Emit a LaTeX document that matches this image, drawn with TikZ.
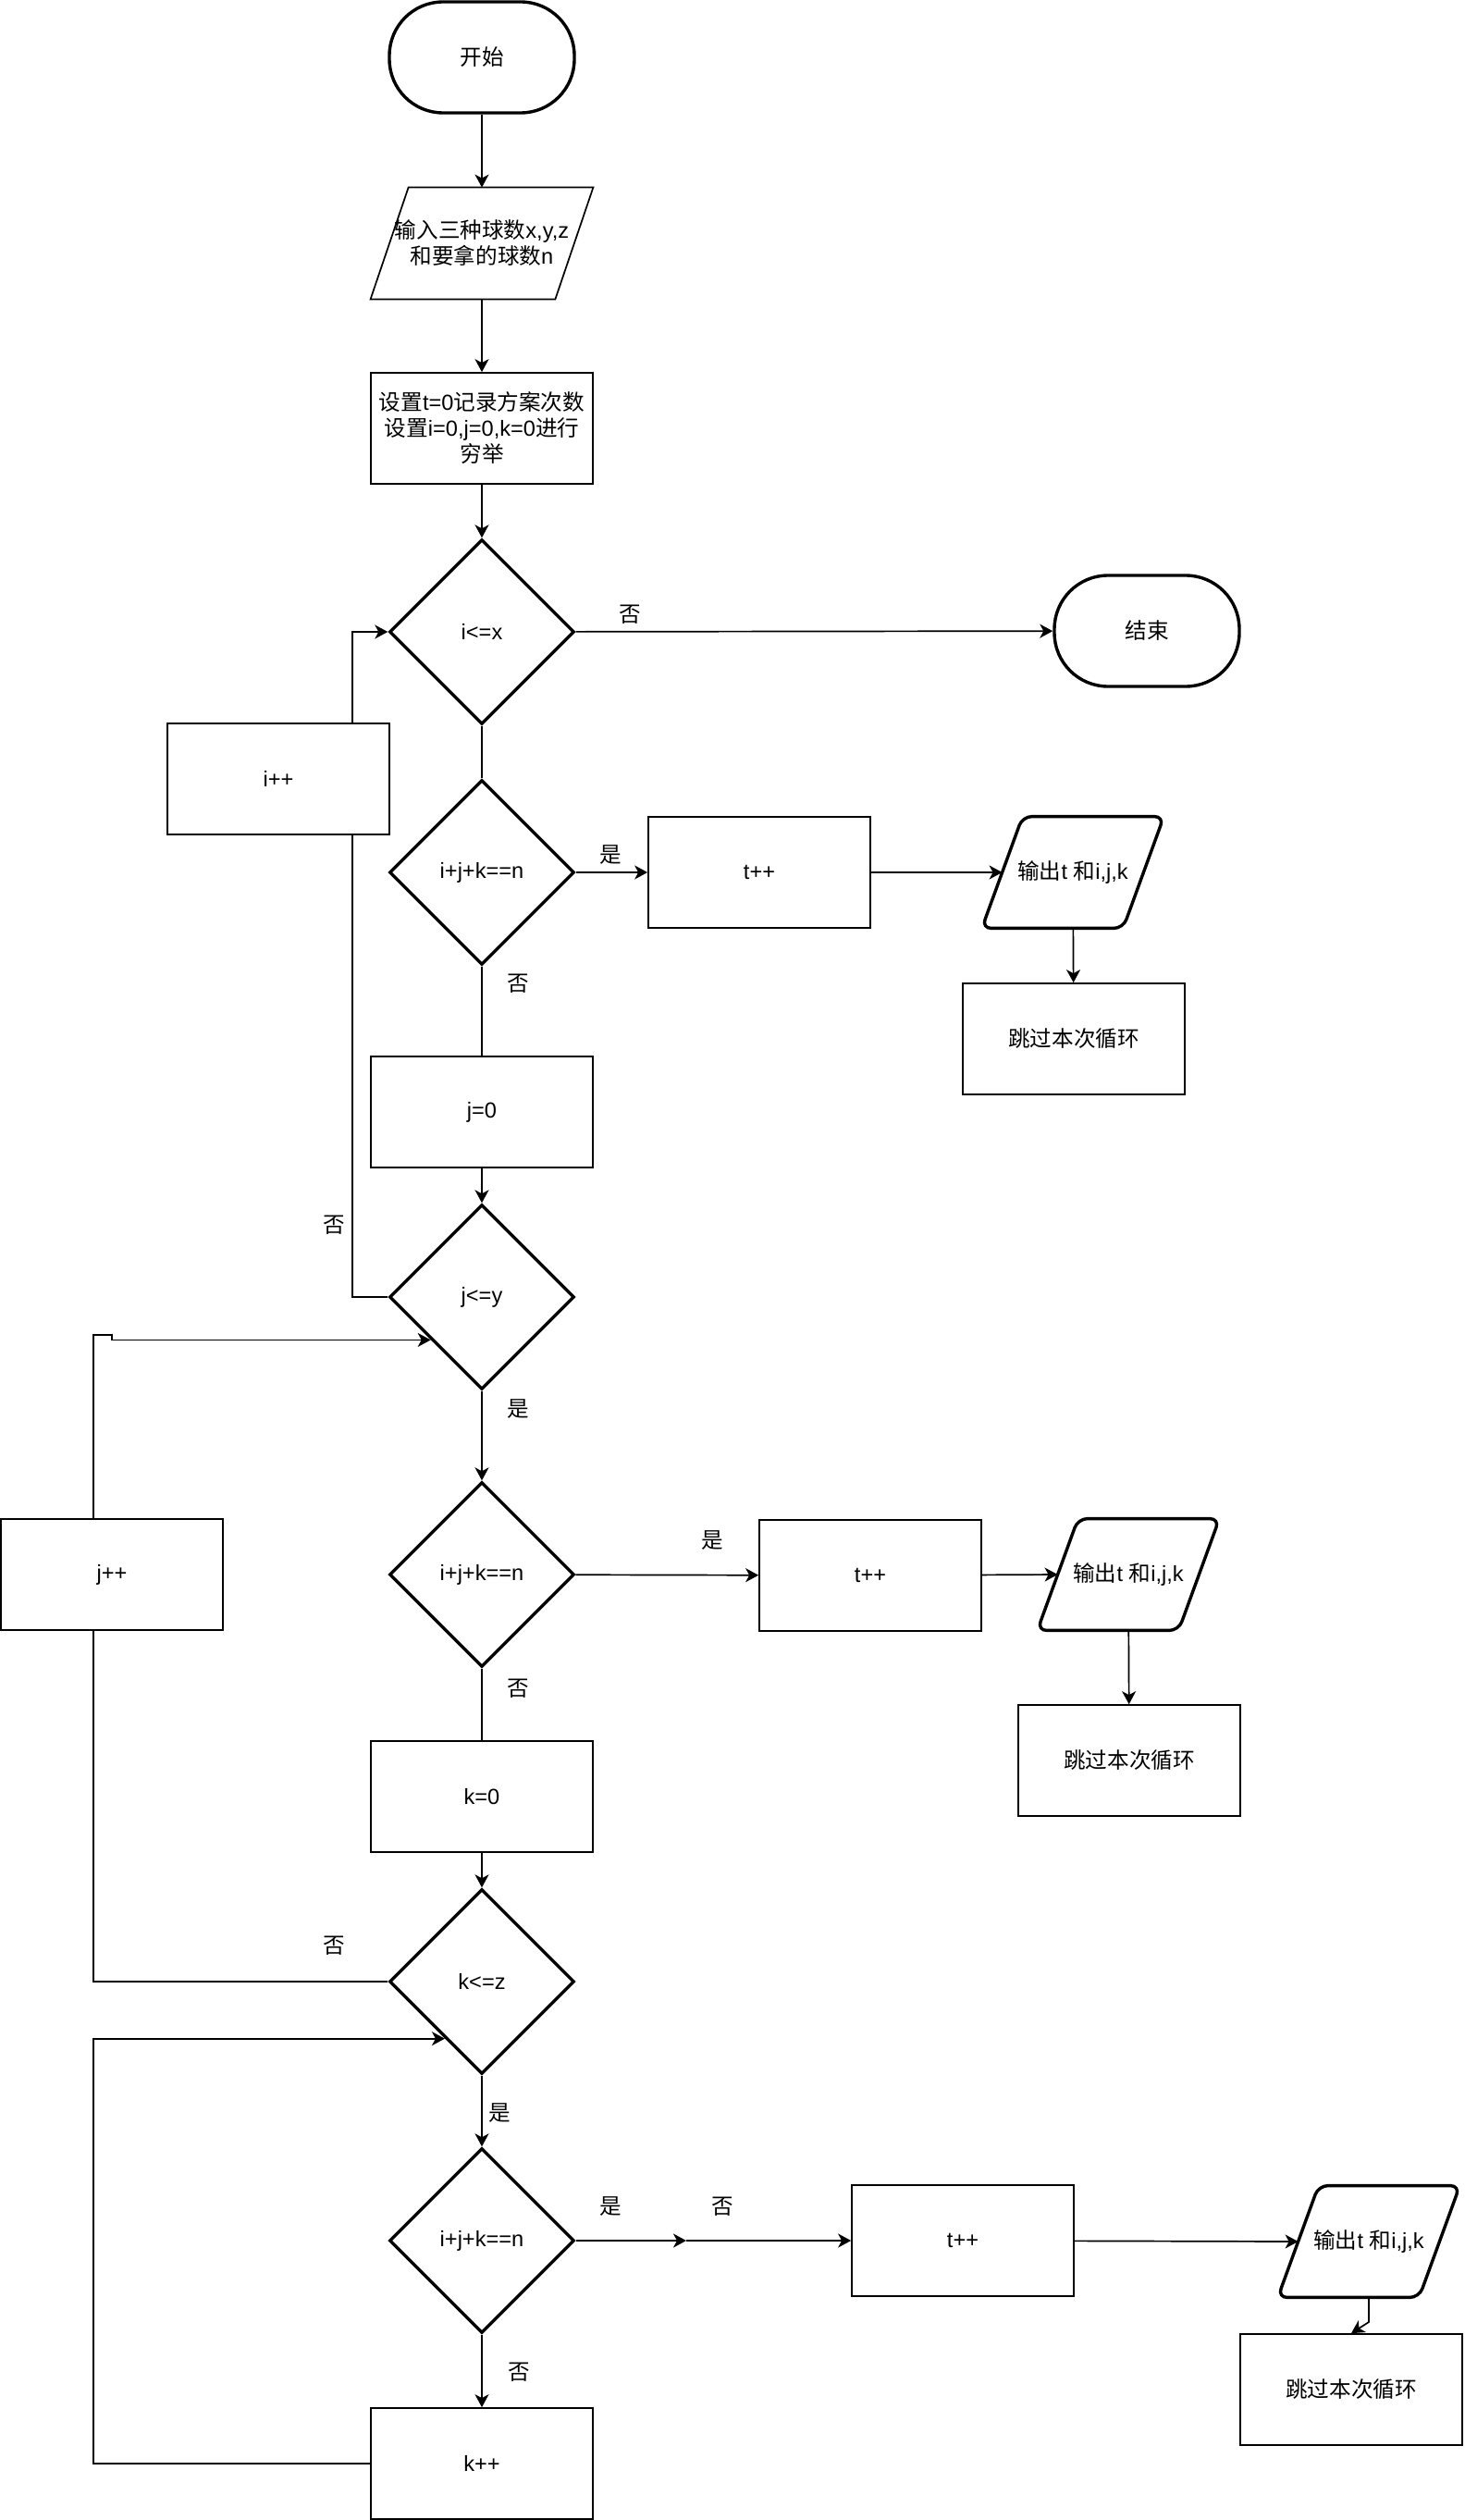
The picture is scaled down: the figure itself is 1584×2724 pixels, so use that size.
\documentclass[tikz,border=0pt]{standalone}
\usepackage{fontspec}
\setmainfont{Liberation Sans}
\newfontfamily\cjk{Noto Sans CJK SC}
\usetikzlibrary{shapes.geometric,arrows.meta,calc}
\begin{document}
\begin{tikzpicture}[x=0.5pt,y=-0.5pt,
 base/.style={font=\fontsize{11.8pt}{14pt}\selectfont, inner sep=0pt, align=center},
 term/.style={base, draw, line width=1.7pt, rectangle, rounded corners=29pt, minimum width=100pt, minimum height=60pt},
 proc/.style={base, draw, line width=0.85pt, rectangle, minimum width=120pt, minimum height=60pt},
 dec/.style={base, draw, line width=1.7pt, diamond, aspect=1, minimum width=100pt, minimum height=100pt},
 inbox/.style={base, rectangle, minimum width=120pt, minimum height=60pt},
 outbox/.style={base, rectangle, minimum width=98pt, minimum height=60pt},
 inline/.style={line width=0.85pt, line join=miter},
 outline/.style={line width=1.7pt, rounded corners=5pt},
 conn/.style={line width=0.85pt},
 arr/.style={conn, -{Stealth[length=7pt,width=7.5pt,inset=2pt]}},
 lbl/.style={font=\fontsize{11.8pt}{14pt}\selectfont\cjk, inner sep=0pt}]
\fill[white] (0,0) rectangle (1584,2724);
\useasboundingbox (0,0) rectangle (1584,2724);

\node[term] (start) at (521,62) {\cjk 开始};
\node[inbox] (input) at (521,263) {{\cjk 输入三种球数}x,y,z\\{\cjk 和要拿的球数}n};
\node[proc] (setup) at (521,463) {{\cjk 设置}t=0{\cjk 记录方案次数}\\{\cjk 设置}i=0,j=0,k=0{\cjk 进行}\\{\cjk 穷举}};
\node[dec] (d1) at (521,683) {i<=x};
\node[term] (end) at (1240,682) {\cjk 结束};
\node[proc] (ipp) at (301,842) {i++};
\node[dec] (d2) at (521,943) {i+j+k==n};
\node[proc] (t1) at (821,943) {t++};
\node[outbox] (o1) at (1160,943) {{\cjk 输出}t {\cjk 和}i,j,k};
\node[proc] (s1) at (1161,1123) {\cjk 跳过本次循环};
\node[proc] (j0) at (521,1202) {j=0};
\node[dec] (d3) at (521,1402) {j<=y};
\node[proc] (jpp) at (121,1702) {j++};
\node[dec] (d4) at (521,1702) {i+j+k==n};
\node[proc] (t2) at (941,1703) {t++};
\node[outbox] (o2) at (1220,1702) {{\cjk 输出}t {\cjk 和}i,j,k};
\node[proc] (s2) at (1221,1903) {\cjk 跳过本次循环};
\node[proc] (k0) at (521,1942) {k=0};
\node[dec] (d5) at (521,2142) {k<=z};
\node[dec] (d6) at (521,2422) {i+j+k==n};
\node[proc] (t3) at (1041,2422) {t++};
\node[outbox] (o3) at (1480,2423) {{\cjk 输出}t {\cjk 和}i,j,k};
\node[proc] (s3) at (1461,2583) {\cjk 跳过本次循环};
\node[proc] (kpp) at (521,2663) {k++};

% parallelogram outlines
\draw[inline] (input.south west) -- ($(input.north west)+(41,0)$) -- (input.north east) -- ($(input.south east)+(-41,0)$) -- cycle;
\foreach \o in {o1,o2,o3}{
  \draw[outline] (\o.south west) -- ($(\o.north west)+(44,0)$) -- (\o.north east) -- ($(\o.south east)+(-44,0)$) -- cycle;
  \coordinate (\o l) at ($(\o.west)+(22,0)$);
}

\coordinate (ix) at (381,0);
\coordinate (lx) at (101,0);
\coordinate (jc1) at (121,1443);
\coordinate (m6) at (742,2422);
\coordinate (o3j) at (1480,2510);

\draw[arr] (start) -- (input);
\draw[arr] (input) -- (setup);
\draw[arr] (setup) -- (d1);
\draw[arr] (d1) -- (end);
\draw[conn] (d1) -- (d2);
\draw[arr] (d2) -- (t1);
\draw[arr] (t1) -- (o1l);
\draw[arr] (o1) -- (s1);
\draw[conn] (d2) -- (j0);
\draw[arr] (j0) -- (d3);
\draw[conn] (d3.west) -| (ipp.south -| ix);
\draw[arr] (ipp.north -| ix) |- (d1.west);
\draw[arr] (d3) -- (d4);
\draw[arr] (d4) -- (t2);
\draw[arr] (t2) -- (o2l);
\draw[arr] (o2) -- (s2);
\draw[conn] (d4) -- (k0);
\draw[arr] (k0) -- (d5);
\draw[conn] (d5.west) -| (jpp.south -| lx);
\draw[arr] (jpp.north -| lx) |- (jc1) |- (d3.220);
\draw[arr] (d5) -- (d6);
\draw[arr] (d6) -- (m6);
\draw[arr] (m6) -- (t3);
\draw[arr] (t3) -- (o3l);
\draw[arr] (o3.south) -- (o3j) -- (s3.north);
\draw[arr] (d6) -- (kpp);
\draw[arr] (kpp.west) -- (kpp.west -| lx) |- (d5.237);

\node[lbl] (l1) at (681,664) {否};
\node[lbl] (l2) at (660,924) {是};
\node[lbl] (l3) at (560,1063) {否};
\node[lbl] (l4) at (361,1324) {否};
\node[lbl] (l5) at (560,1523) {是};
\node[lbl] (l6) at (770,1665) {是};
\node[lbl] (l7) at (560,1825) {否};
\node[lbl] (l8) at (361,2103) {否};
\node[lbl] (l9) at (540,2284) {是};
\node[lbl] (l10) at (660,2385) {是};
\node[lbl] (l11) at (781,2385) {否};
\node[lbl] (l12) at (561,2564) {否};
\end{tikzpicture}
\end{document}
